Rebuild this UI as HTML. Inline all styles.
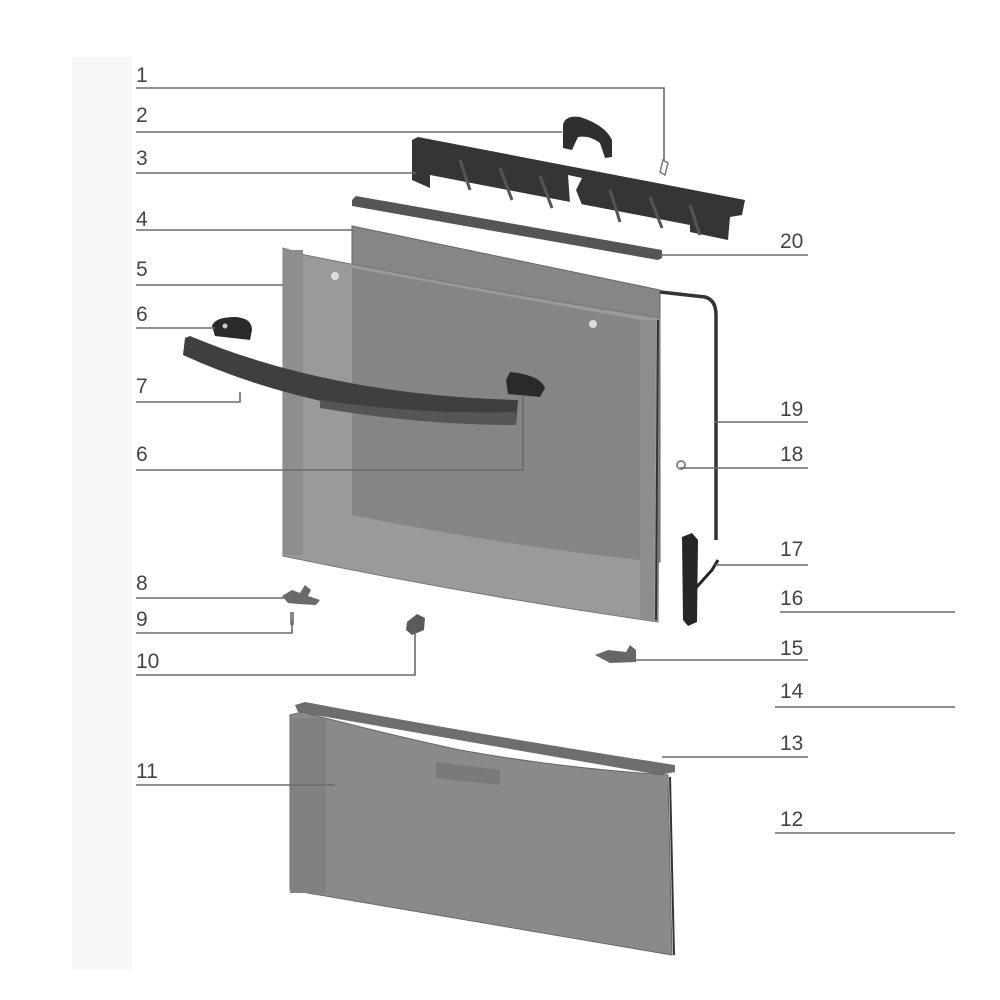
<!DOCTYPE html>
<html><head><meta charset="utf-8"><style>
html,body{margin:0;padding:0;background:#fff;}
svg{display:block}
text{font-family:"Liberation Sans",sans-serif;font-size:21px;fill:#444;}
</style></head><body>
<svg width="1000" height="1000" viewBox="0 0 1000 1000" xmlns="http://www.w3.org/2000/svg">
<rect x="72" y="57" width="60" height="913" fill="#f7f7f7"/>
<!-- part 2 handle clip -->
<path d="M563,125 Q565,115 580,117 Q605,125 612,140 L612,157 L605,158 L600,143 Q590,135 578,137 L572,150 L563,148 Z" fill="#2f2f2f"/>
<!-- part 1 -->
<path d="M660,172 L663,160 L668,163 L665,175 Z" fill="none" stroke="#777" stroke-width="1.5"/>
<!-- part 3 hinge bar -->
<path d="M412,140 L418,137 L745,200 L742,215 L730,217 L728,240 L690,232 L690,225 L430,175 L430,188 L412,180 Z" fill="#353535"/>
<g stroke="#555" stroke-width="3">
<line x1="460" y1="160" x2="470" y2="190"/><line x1="500" y1="168" x2="512" y2="200"/><line x1="540" y1="176" x2="552" y2="208"/><line x1="610" y1="190" x2="620" y2="222"/><line x1="650" y1="197" x2="662" y2="228"/><line x1="690" y1="205" x2="700" y2="235"/>
</g>
<path d="M568,175 L582,178 L576,190 L582,205 L570,203 Z" fill="#fff"/>
<!-- part 20 strip -->
<path d="M352,200 L356,196 L662,250 L662,258 L658,260 L352,206 Z" fill="#555"/>
<!-- panel 4 back glass -->
<path d="M352,226 L660,290 L660,562 L352,520 Z" fill="#868686" stroke="#666" stroke-width="1"/>
<!-- part 19 wire -->
<path d="M660,292 L705,297 Q716,300 716,315 L716,540" fill="none" stroke="#333" stroke-width="3.5"/>
<!-- panel 5 front frame -->
<path d="M283,248 L305,255 Q480,290 660,318 L658,622 Q470,595 283,556 Z" fill="#9a9a9a" stroke="#777" stroke-width="1"/>
<path d="M352,268 Q500,295 640,320 L640,560 Q500,545 352,515 Z" fill="#858585"/>
<path d="M640,320 L656,320 L654,620 L640,618 Z" fill="#8d8d8d"/>
<rect x="283" y="250" width="20" height="305" fill="#8e8e8e"/>
<line x1="658" y1="320" x2="656" y2="620" stroke="#333" stroke-width="2"/>
<circle cx="335" cy="276" r="4" fill="#ddd"/>
<circle cx="593" cy="324" r="4" fill="#ddd"/>
<!-- part 6 caps -->
<path d="M212,326 Q215,317 235,317 Q252,318 252,330 L250,340 L215,336 Z" fill="#2a2a2a"/>
<circle cx="225" cy="326" r="2.5" fill="#ccc"/>
<path d="M506,380 L510,372 Q540,375 545,388 L540,397 L508,394 Z" fill="#2a2a2a"/>
<!-- part 7 handle -->
<path d="M185,338 L190,336 Q330,395 518,400 L516,425 Q320,418 183,355 Z" fill="#3f3f3f"/>
<path d="M320,400 Q420,415 516,412 L516,425 Q420,425 320,408 Z" fill="#555"/>
<!-- part 18 -->
<circle cx="681" cy="465" r="4" fill="none" stroke="#888" stroke-width="2"/>
<!-- part 16/17 hinge -->
<path d="M682,537 L692,533 L698,540 L697,622 L688,626 L683,620 Z" fill="#262626"/>
<path d="M694,590 L712,570 L718,560" fill="none" stroke="#262626" stroke-width="3"/>
<!-- small parts 8,9,10,15 -->
<path d="M282,596 L292,590 L300,593 L305,585 L311,590 L308,596 L320,600 L316,605 L298,604 L288,603 Z" fill="#6a6a6a"/>
<path d="M290,612 L294,612 L294,625 L290,625 Z" fill="#8a8a8a"/>
<path d="M407,622 L417,614 L425,618 L424,630 L412,635 L406,630 Z" fill="#5a5a5a"/>
<path d="M595,655 L608,650 L626,652 L630,645 L636,650 L636,662 L610,663 Z" fill="#666"/>
<!-- strip 13 -->
<path d="M295,705 L305,702 Q480,735 675,765 L675,772 L660,775 Q470,742 298,712 Z" fill="#6e6e6e"/>
<!-- panel 11 -->
<path d="M290,715 L302,712 Q390,735 460,750 Q560,768 668,775 L672,955 Q500,925 290,890 Z" fill="#8a8a8a" stroke="#666" stroke-width="1"/>
<rect x="290" y="718" width="36" height="175" fill="#818181"/>
<line x1="670" y1="777" x2="674" y2="955" stroke="#333" stroke-width="2"/>
<path d="M436,762 L500,770 L500,785 L436,778 Z" fill="#7a7a7a"/>
<!-- leader lines -->
<g stroke="#6a6a6a" stroke-width="1.6" fill="none">
<polyline points="136,88 664,88 664,160"/>
<line x1="136" y1="132" x2="562" y2="132"/>
<line x1="136" y1="173" x2="416" y2="173"/>
<line x1="136" y1="230" x2="352" y2="230"/>
<line x1="136" y1="285" x2="283" y2="285"/>
<line x1="136" y1="328" x2="215" y2="328"/>
<polyline points="136,402 240,402 240,392"/>
<polyline points="136,470 523,470 523,395"/>
<line x1="136" y1="598" x2="284" y2="598"/>
<polyline points="136,633 292,633 292,620"/>
<polyline points="136,675 415,675 415,630"/>
<line x1="136" y1="785" x2="335" y2="785"/>
<line x1="660" y1="255" x2="808" y2="255"/>
<line x1="715" y1="422" x2="808" y2="422"/>
<line x1="680" y1="468" x2="808" y2="468"/>
<line x1="715" y1="565" x2="808" y2="565"/>
<line x1="780" y1="612" x2="955" y2="612"/>
<line x1="620" y1="660" x2="808" y2="660"/>
<line x1="775" y1="707" x2="955" y2="707"/>
<line x1="662" y1="757" x2="808" y2="757"/>
<line x1="775" y1="833" x2="955" y2="833"/>
</g>
<!-- labels -->
<text x="136" y="82">1</text>
<text x="136" y="122">2</text>
<text x="136" y="165">3</text>
<text x="136" y="226">4</text>
<text x="136" y="276">5</text>
<text x="136" y="321">6</text>
<text x="136" y="393">7</text>
<text x="136" y="461">6</text>
<text x="136" y="590">8</text>
<text x="136" y="626">9</text>
<text x="136" y="668">10</text>
<text x="136" y="778">11</text>
<text x="780" y="248">20</text>
<text x="780" y="416">19</text>
<text x="780" y="461">18</text>
<text x="780" y="556">17</text>
<text x="780" y="605">16</text>
<text x="780" y="655">15</text>
<text x="780" y="698">14</text>
<text x="780" y="750">13</text>
<text x="780" y="826">12</text>
</svg>
</body></html>
